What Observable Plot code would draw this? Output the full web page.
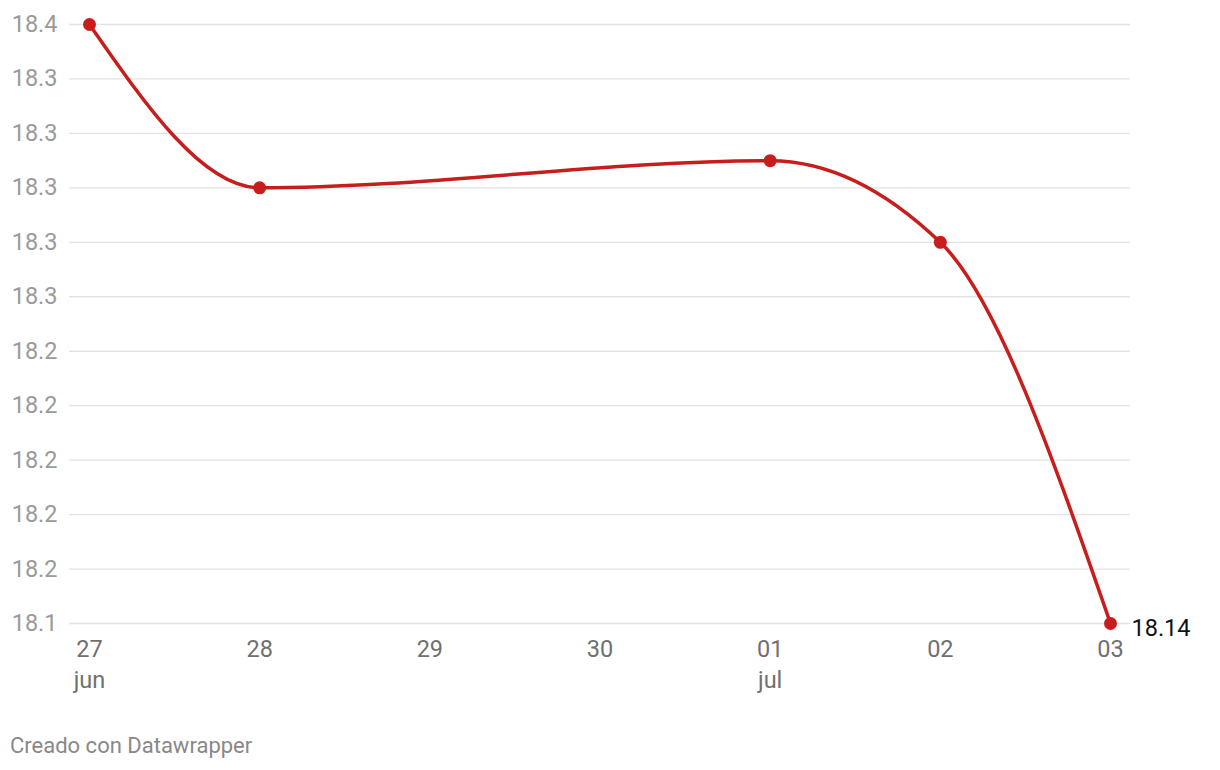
<!DOCTYPE html>
<html>
<head>
<meta charset="utf-8">
<script src="https://cdn.jsdelivr.net/npm/d3@7"></script>
<script src="https://cdn.jsdelivr.net/npm/@observablehq/plot@0.6"></script>
<style>
  html, body { margin: 0; padding: 0; background: #fff; }
  body { width: 1220px; height: 770px; overflow: hidden; font-family: Roboto, sans-serif; }
  #caption { font-family: Roboto, sans-serif; font-size: 22px; line-height: 26px; color: #888; margin: 13px 0 0 10px; }
</style>
</head>
<body>
<div id="chart"></div>
<div id="caption">Creado con Datawrapper</div>
<script>
const dates = ["2023-06-27", "2023-06-28", "2023-07-01", "2023-07-02", "2023-07-03"];
const values = [18.36, 18.30, 18.31, 18.28, 18.14];
const yTicks = [18.14, 18.16, 18.18, 18.20, 18.22, 18.24, 18.26, 18.28, 18.30, 18.32, 18.34, 18.36];
const xTickDates = ["2023-06-27", "2023-06-28", "2023-06-29", "2023-06-30", "2023-07-01", "2023-07-02", "2023-07-03"];
const xTickLabels = ["27\njun", "28", "29", "30", "01\njul", "02", "03"];
const lastLabel = "18.14";

const data = dates.map((d, i) => ({date: new Date(d + "T00:00:00Z"), value: values[i]}));
const xt = xTickDates.map(d => new Date(d + "T00:00:00Z"));
const red = "#c71e1d";

const chart = Plot.plot({
  width: 1220,
  height: 720,
  marginTop: 24,
  marginBottom: 97,
  marginLeft: 89,
  marginRight: 110,
  style: {fontFamily: "Roboto, sans-serif", background: "#fff"},
  x: {type: "utc", domain: [xt[0], xt[xt.length - 1]]},
  y: {domain: [18.14, 18.36]},
  marks: [
    Plot.ruleY(yTicks, {stroke: "#e3e3e3", strokeWidth: 1.3, insetLeft: -20, insetRight: -20}),
    Plot.axisY({ticks: yTicks, tickSize: 0, tickPadding: 32, tickFormat: d3.format(".1f"), fontSize: 23.5, color: "#9a9a9a", label: null}),
    Plot.axisX({ticks: xt, tickSize: 0, tickPadding: 11, fontSize: 23.5, color: "#707070",
      tickFormat: (d) => xTickLabels[xt.findIndex(t => +t === +d)], lineHeight: 1.32, textAnchor: "middle", label: null}),
    Plot.line(data, {x: "date", y: "value", stroke: red, strokeWidth: 3.5, curve: "monotone-x"}),
    Plot.dot(data, {x: "date", y: "value", fill: red, r: 6.5}),
    Plot.text([data[data.length - 1]], {x: "date", y: "value", text: () => lastLabel, textAnchor: "start", dx: 21, dy: 5, fontSize: 23.5, fill: "#111"})
  ]
});
document.getElementById("chart").appendChild(chart);
</script>
</body>
</html>
